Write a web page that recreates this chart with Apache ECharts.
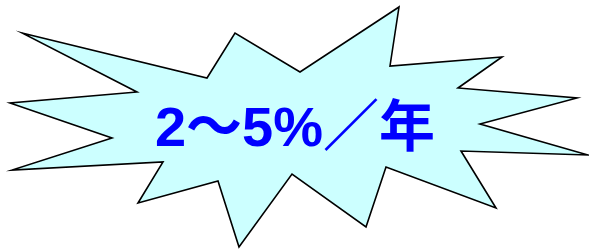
<!DOCTYPE html>
<html>
<head>
    <meta charset="UTF-8">
    <title>2～5%／年</title>
    <script type="text/javascript" src="https://cdn.jsdelivr.net/npm/echarts@6/dist/echarts.min.js"></script>
    <style>
        html, body { margin: 0; padding: 0; background: #fff; }
    </style>
</head>
<body>
    <div id="main" style="width: 589px;height:249px;"></div>
    <script type="text/javascript">
        // 爆炸形的顶点（按顺时针，外尖角与内凹点交替）
        var starX = [22, 207, 235, 300, 399, 390, 502, 458, 577, 480, 588, 461, 496, 386, 366, 292, 239, 218, 138, 163, 12, 112, 10, 137];
        var starY = [33, 78, 33, 72, 7, 66, 57, 88, 98, 124, 155, 151, 208, 167, 227, 174, 247, 181, 203, 162, 170, 138, 103, 92];
        var label = '2～5%／年';
        var labelPos = [295, 131];

        var points = starX.map(function (x, i) { return [x, starY[i]]; });

        var myChart = echarts.init(document.getElementById('main'));
        var option = {
            animation: false,
            grid: { left: 0, right: 0, top: 0, bottom: 0 },
            xAxis: { type: 'value', min: 0, max: 589, show: false },
            yAxis: { type: 'value', min: 0, max: 249, inverse: true, show: false },
            series: [
                {
                    type: 'custom',
                    data: [0],
                    renderItem: function (params, api) {
                        var c = api.coord(labelPos);
                        return {
                            type: 'group',
                            children: [
                                {
                                    type: 'polygon',
                                    shape: { points: points.map(function (p) { return api.coord(p); }) },
                                    style: { fill: '#ccffff', stroke: '#000', lineWidth: 1.6, lineJoin: 'miter' }
                                },
                                {
                                    type: 'text',
                                    x: c[0],
                                    y: c[1],
                                    style: {
                                        text: label,
                                        fill: '#0000ff',
                                        fontSize: 56,
                                        fontWeight: 'bold',
                                        fontFamily: '"Liberation Sans", "Noto Sans CJK JP", sans-serif',
                                        align: 'center',
                                        verticalAlign: 'middle'
                                    }
                                }
                            ]
                        };
                    }
                }
            ]
        };
        myChart.setOption(option);
    </script>
</body>
</html>
